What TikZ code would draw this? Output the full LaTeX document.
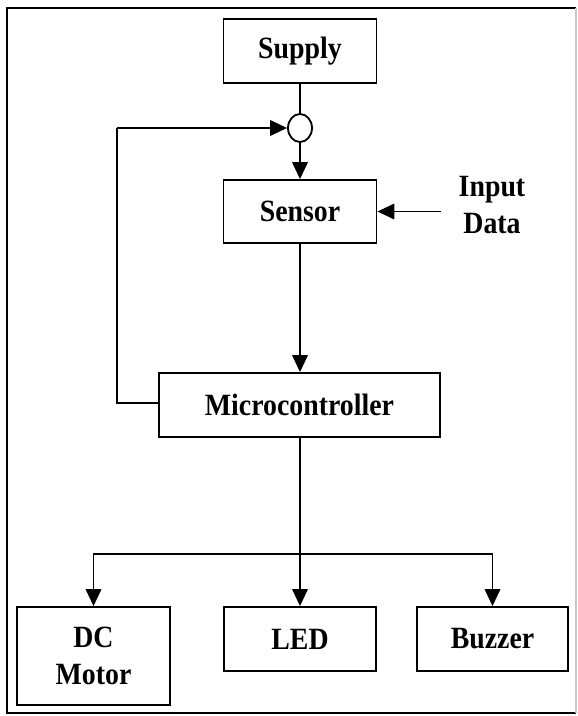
\documentclass[tikz,border=0pt]{standalone}
\usepackage{fontspec}
\setmainfont[FakeStretch=0.9]{Liberation Serif}
\usepackage{tikz}
\usetikzlibrary{arrows.meta,shapes.geometric}

\tikzset{
  blk/.style={draw,line width=1.3pt,align=center,inner sep=0pt,
    font=\fontsize{22}{26}\selectfont\bfseries},
  arr/.style={line width=1.3pt,-{Triangle[length=12pt,width=11pt]}},
  lin/.style={line width=1.3pt}
}

\begin{document}
\begin{tikzpicture}
\useasboundingbox (0,0) rectangle (14.425,-17.9);
%% frame
\draw[line width=1.3pt] (14.4,-0.2) -- (0.175,-0.2) -- (0.175,-17.825) -- (14.4,-17.825);
\draw[line width=0.8pt,gray!45] (14.4,-0.2) -- (14.4,-17.825);
%%
\node[blk,minimum width=3.825cm,minimum height=1.6cm] (supply) at (7.5,-1.275) {Supply};
\node[draw,ellipse,line width=1.3pt,minimum width=0.6cm,minimum height=0.7cm,inner sep=0pt] (sum) at (7.5,-3.2) {};
\node[blk,minimum width=3.825cm,minimum height=1.575cm] (sensor) at (7.5,-5.2875) {Sensor};
\node[blk,draw=none] (input) at (12.3,-5.125) {Input\\Data};
\coordinate (in) at (11.025,-5.2875);
%%
\node[blk,minimum width=7.025cm,minimum height=1.6cm] (micro) at (7.4875,-10.125) {Microcontroller};
\coordinate (fb) at (2.925,-10.075);
%%
\node[blk,minimum width=3.825cm,minimum height=2.45cm] (motor) at (2.3375,-16.4) {DC\\Motor};
\node[blk,minimum width=3.8cm,minimum height=1.6cm] (led) at (7.5,-15.975) {LED};
\node[blk,minimum width=3.775cm,minimum height=1.6cm] (buzzer) at (12.3125,-15.975) {Buzzer};
\coordinate (split) at (7.5,-13.85);
%%
\draw[lin] (supply) -- (sum);
\draw[arr] (sum) -- (sensor);
\draw[arr] (in) -- (sensor.east);
\draw[arr] (sensor) -- (sensor |- micro.north);
\draw[lin] (micro.west |- fb) -- (fb) -- (fb |- sum) ;
\draw[arr] (fb |- sum) -- (sum.west);
%%
\draw[lin] (micro.south -| split) -- (split);
\draw[arr] (split) -- (led);
\draw[arr] (split) -| (motor.north);
\draw[arr] (split) -| (buzzer.north);
\end{tikzpicture}
\end{document}
